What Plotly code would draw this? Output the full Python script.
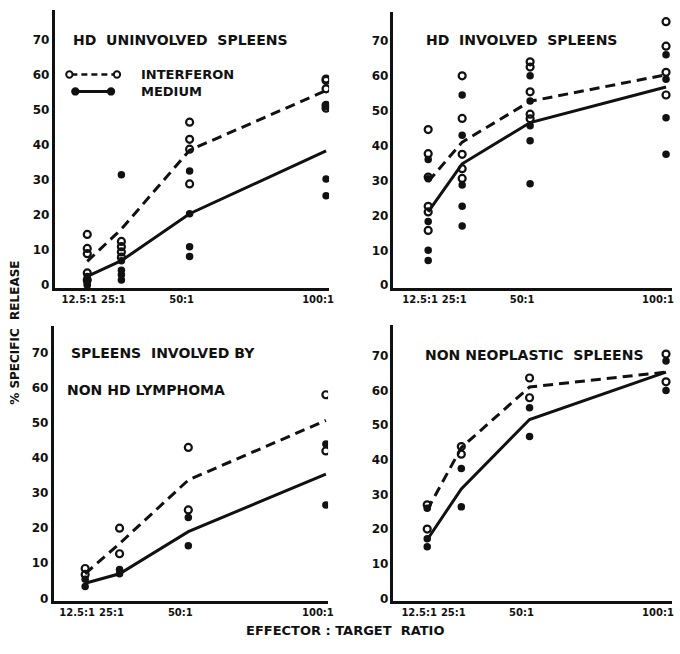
import plotly.graph_objects as go

# ---------------- data ----------------
ratios = [12.5, 25, 50, 100]
ratio_labels = ["12.5:1", "25:1", "50:1", "100:1"]
y_ticks = [0, 10, 20, 30, 40, 50, 60, 70]

# Panel 1: HD uninvolved spleens
p1_ifn_pts = [[14.5, 10.5, 9, 3.5, 1.5], [12.5, 11, 9.5, 8], [46.5, 41.6, 38.8, 28.9], [58.8, 58.4, 56, 51.3, 50.5]]
p1_med_pts = [[2.5, 1, 0.5, 0], [31.5, 7, 4.3, 3, 1.5], [32.6, 20.4, 11, 8.2], [51, 30.3, 25.5]]
p1_ifn_line = [6.8, 16, 38.5, 55.5]
p1_med_line = [2.5, 7, 20.4, 38.3]

# Panel 2: HD involved spleens
p2_ifn_pts = [[44.6, 37.7, 31, 22.6, 21, 15.7], [60, 47.8, 37.5, 33.4, 30.6], [64, 62.5, 55.4, 49, 47.7], [75.5, 68.5, 61, 54.5]]
p2_med_pts = [[36, 30.5, 18.3, 10, 7.1], [54.5, 43, 28.7, 22.6, 17], [60, 52.8, 45.7, 41.4, 29.1], [66, 59, 48, 37.5]]
p2_ifn_line = [29.7, 41, 52.7, 60.3]
p2_med_line = [21, 34.8, 46.6, 56.8]

# Panel 3: spleens involved by non HD lymphoma
p3_ifn_pts = [[8.5, 6.8], [20, 12.7], [43, 25.2], [58, 42]]
p3_med_pts = [[5.4, 3.4], [8.2, 7], [23, 15], [44, 26.6]]
p3_ifn_line = [7, 15.6, 33.7, 50.7]
p3_med_line = [4.3, 7, 19, 35.4]

# Panel 4: non neoplastic spleens
p4_ifn_pts = [[27, 20], [43.8, 41.6], [63.6, 57.9], [70.5, 62.5]]
p4_med_pts = [[26, 17.2, 14.9], [37.5, 26.4], [55, 46.7], [68.5, 60]]
p4_ifn_line = [25.5, 43.5, 61, 65.3]
p4_med_line = [16.9, 31.6, 51.6, 65.3]

panel_titles = [
    ["HD\u00a0\u00a0UNINVOLVED\u00a0\u00a0SPLEENS"],
    ["HD\u00a0\u00a0INVOLVED\u00a0\u00a0SPLEENS"],
    ["SPLEENS\u00a0\u00a0INVOLVED\u00a0BY", "NON\u00a0HD\u00a0LYMPHOMA"],
    ["NON\u00a0NEOPLASTIC\u00a0\u00a0SPLEENS"],
]

# ---------------- layout helpers ----------------
W, H = 680, 654
def fx(p):
    return p / W
def fy(p):
    return 1 - p / H

FONT = "DejaVu Sans"
INK = "#111111"

panels = [
    dict(ifn=p1_ifn_pts, med=p1_med_pts, il=p1_ifn_line, ml=p1_med_line,
         xd=[fx(55), fx(332)], yd=[fy(290), fy(10)], xr=[0.5, 101.1], yr=[-0.85, 78.5]),
    dict(ifn=p2_ifn_pts, med=p2_med_pts, il=p2_ifn_line, ml=p2_med_line,
         xd=[fx(397), fx(678)], yd=[fy(290), fy(12)], xr=[-0.26, 102.2], yr=[-0.85, 78.3]),
    dict(ifn=p3_ifn_pts, med=p3_med_pts, il=p3_ifn_line, ml=p3_med_line,
         xd=[fx(54), fx(331)], yd=[fy(605), fy(328)], xr=[1.0, 100.8], yr=[-0.85, 77.6]),
    dict(ifn=p4_ifn_pts, med=p4_med_pts, il=p4_ifn_line, ml=p4_med_line,
         xd=[fx(397), fx(678)], yd=[fy(605), fy(327)], xr=[0.15, 102.2], yr=[-0.86, 78.9]),
]

fig = go.Figure()
layout = dict(
    width=W, height=H, margin=dict(l=0, r=0, t=0, b=0),
    paper_bgcolor="white", plot_bgcolor="white", showlegend=False,
    font=dict(family=FONT, color=INK),
)

for i, p in enumerate(panels):
    n = i + 1
    xa = "x" if n == 1 else f"x{n}"
    ya = "y" if n == 1 else f"y{n}"
    # lines
    fig.add_trace(go.Scatter(x=ratios, y=p["il"], mode="lines", xaxis=xa, yaxis=ya,
                             line=dict(color=INK, width=3, dash="10px,6px")))
    fig.add_trace(go.Scatter(x=ratios, y=p["ml"], mode="lines", xaxis=xa, yaxis=ya,
                             line=dict(color=INK, width=3)))
    # points
    xs, ys = [], []
    for r, vals in zip(ratios, p["ifn"]):
        xs += [r] * len(vals)
        ys += vals
    fig.add_trace(go.Scatter(x=xs, y=ys, mode="markers", xaxis=xa, yaxis=ya,
                             marker=dict(symbol="circle-open", size=7, color=INK, line=dict(width=2.2, color=INK))))
    xs, ys = [], []
    for r, vals in zip(ratios, p["med"]):
        xs += [r] * len(vals)
        ys += vals
    fig.add_trace(go.Scatter(x=xs, y=ys, mode="markers", xaxis=xa, yaxis=ya,
                             marker=dict(symbol="circle", size=7.5, color=INK)))

    key = "" if n == 1 else str(n)
    layout["xaxis" + key] = dict(
        domain=p["xd"], range=p["xr"], anchor=ya, showgrid=False, zeroline=False,
        showline=True, linewidth=2.5, linecolor=INK, ticks="",
        tickvals=ratios, ticktext=ratio_labels, ticklabelshift=-8, tickangle=0,
        tickfont=dict(family=FONT, size=10, weight="bold", color=INK),
    )
    layout["yaxis" + key] = dict(
        domain=p["yd"], range=p["yr"], anchor=xa, showgrid=False, zeroline=False,
        showline=True, linewidth=2.5, linecolor=INK, ticks="",
        tickvals=y_ticks, ticktext=[str(v) for v in y_ticks],
        tickfont=dict(family=FONT, size=12, weight="bold", color=INK),
    )

fig.update_layout(**layout)

# panel titles
title_pos = [[(72, 40)], [(428, 40)], [(70, 355), (66, 392)], [(427, 357)]]
for lines, poss in zip(panel_titles, title_pos):
    for txt, (px, py) in zip(lines, poss):
        fig.add_annotation(text=txt, x=fx(px), y=fy(py), xref="paper", yref="paper",
                           xanchor="left", yanchor="middle", showarrow=False,
                           font=dict(family=FONT, size=14, weight="bold", color=INK))

# legend (panel 1)
fig.add_shape(type="line", xref="paper", yref="paper", x0=fx(72), x1=fx(116), y0=fy(75), y1=fy(75),
              line=dict(color=INK, width=2.5, dash="6px,4px"))
fig.add_shape(type="line", xref="paper", yref="paper", x0=fx(76), x1=fx(112), y0=fy(92), y1=fy(92),
              line=dict(color=INK, width=3))
for cx, cy, filled in [(70, 75, False), (118, 75, False), (76, 92, True), (112, 92, True)]:
    fig.add_shape(type="circle", xref="paper", yref="paper",
                  x0=fx(cx - 3.2), x1=fx(cx + 3.2), y0=fy(cy + 3.2), y1=fy(cy - 3.2),
                  line=dict(color=INK, width=2), fillcolor=INK if filled else "white")
fig.add_annotation(text="INTERFERON", x=fx(140), y=fy(75), xref="paper", yref="paper",
                   xanchor="left", yanchor="middle", showarrow=False,
                   font=dict(family=FONT, size=13, weight="bold", color=INK))
fig.add_annotation(text="MEDIUM", x=fx(140), y=fy(92), xref="paper", yref="paper",
                   xanchor="left", yanchor="middle", showarrow=False,
                   font=dict(family=FONT, size=13, weight="bold", color=INK))

# axis titles
fig.add_annotation(text="EFFECTOR\u00a0:\u00a0TARGET\u00a0\u00a0RATIO", x=fx(348), y=fy(634),
                   xref="paper", yref="paper", xanchor="center", yanchor="middle", showarrow=False,
                   font=dict(family=FONT, size=13, weight="bold", color=INK))
fig.add_annotation(text="%\u00a0SPECIFIC\u00a0\u00a0RELEASE", x=fx(15), y=fy(335),
                   xref="paper", yref="paper", xanchor="center", yanchor="middle", showarrow=False,
                   textangle=-90, font=dict(family=FONT, size=12, weight="bold", color=INK))

fig.write_html("out.html", post_script="document.body.style.margin='0';document.body.style.overflow='hidden';")
